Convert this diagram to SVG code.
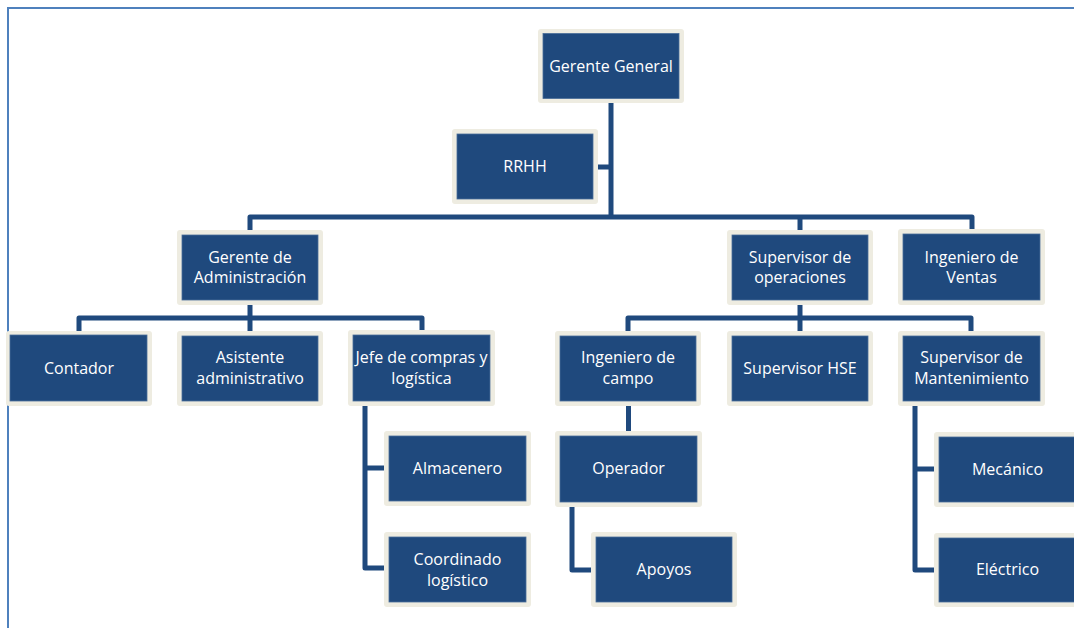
<svg xmlns="http://www.w3.org/2000/svg" width="1074" height="628" viewBox="0 0 1074 628">
  <style>
    .frame { stroke: #4F81BD; stroke-width: 2; fill: none; }
    .outer { fill: #EEECE1; }
    .inner { fill: #1F497D; stroke: #4A6E9A; stroke-width: 0.8; }
    .label { fill: #FFFFFF; font-family: "Open Sans", "Noto Sans", sans-serif; font-size: 16px; text-anchor: middle; }
    .link { fill: none; stroke: #1F497D; stroke-width: 5; stroke-linejoin: round; stroke-linecap: butt; }
  </style>
  <rect width="1074" height="628" fill="#FFFFFF"/>
  <!-- page frame -->
  <path class="frame" d="M8,628 V8 H1074"/>

  <!-- connectors -->
  <g id="connectors">
    <path class="link" d="M611,103 V217"/>
    <path class="link" d="M598,167 H611"/>
    <path class="link" d="M250,230 V217 H972 V229"/>
    <path class="link" d="M800,217 V230"/>
    <path class="link" d="M250,305 V331"/>
    <path class="link" d="M79,331 V318 H422 V330"/>
    <path class="link" d="M800,305 V331"/>
    <path class="link" d="M628,331 V318 H971 V331"/>
    <path class="link" d="M365,406 V568 H384"/>
    <path class="link" d="M365,468 H384"/>
    <path class="link" d="M628.5,406 V431"/>
    <path class="link" d="M572,507 V570 H591"/>
    <path class="link" d="M915,406 V570 H934"/>
    <path class="link" d="M915,469 H934"/>
  </g>

  <g id="gerente-general">
    <rect class="outer" x="538" y="29" width="146" height="74" rx="3"/>
    <rect class="inner" x="543" y="33.5" width="136" height="65"/>
    <text class="label" x="611" y="72">Gerente General</text>
  </g>
  <g id="rrhh">
    <rect class="outer" x="452" y="129" width="146" height="75" rx="3"/>
    <rect class="inner" x="457" y="134" width="136" height="65"/>
    <text class="label" x="525" y="172">RRHH</text>
  </g>
  <g id="gerente-administracion">
    <rect class="outer" x="177" y="230" width="146" height="75" rx="3"/>
    <rect class="inner" x="182" y="235" width="136" height="65"/>
    <text class="label" x="250" y="263">Gerente de</text>
    <text class="label" x="250" y="283">Administración</text>
  </g>
  <g id="supervisor-operaciones">
    <rect class="outer" x="727" y="230" width="146" height="75" rx="3"/>
    <rect class="inner" x="732" y="235" width="136" height="65"/>
    <text class="label" x="800" y="263">Supervisor de</text>
    <text class="label" x="800" y="283">operaciones</text>
  </g>
  <g id="ingeniero-ventas">
    <rect class="outer" x="898" y="229" width="147" height="76" rx="3"/>
    <rect class="inner" x="903" y="234" width="137" height="66"/>
    <text class="label" x="971.5" y="263">Ingeniero de</text>
    <text class="label" x="971.5" y="283">Ventas</text>
  </g>
  <g id="contador">
    <rect class="outer" x="6" y="331" width="146" height="75" rx="3"/>
    <rect class="inner" x="10" y="335" width="137" height="66"/>
    <text class="label" x="79" y="374">Contador</text>
  </g>
  <g id="asistente-administrativo">
    <rect class="outer" x="177" y="331" width="146" height="75" rx="3"/>
    <rect class="inner" x="182" y="336" width="136" height="65"/>
    <text class="label" x="250" y="363">Asistente</text>
    <text class="label" x="250" y="384">administrativo</text>
  </g>
  <g id="jefe-compras">
    <rect class="outer" x="348" y="330" width="147" height="76" rx="3"/>
    <rect class="inner" x="353" y="335" width="137" height="66"/>
    <text class="label" x="421.5" y="363">Jefe de compras y</text>
    <text class="label" x="421.5" y="384">logística</text>
  </g>
  <g id="ingeniero-campo">
    <rect class="outer" x="555" y="331" width="146" height="75" rx="3"/>
    <rect class="inner" x="560" y="336" width="136" height="65"/>
    <text class="label" x="628" y="363">Ingeniero de</text>
    <text class="label" x="628" y="384">campo</text>
  </g>
  <g id="supervisor-hse">
    <rect class="outer" x="727" y="331" width="146" height="75" rx="3"/>
    <rect class="inner" x="732" y="336" width="136" height="65"/>
    <text class="label" x="800" y="374">Supervisor HSE</text>
  </g>
  <g id="supervisor-mantenimiento">
    <rect class="outer" x="898" y="331" width="147" height="75" rx="3"/>
    <rect class="inner" x="903" y="336" width="137" height="65"/>
    <text class="label" x="971.5" y="363">Supervisor de</text>
    <text class="label" x="971.5" y="384">Mantenimiento</text>
  </g>
  <g id="almacenero">
    <rect class="outer" x="384" y="431" width="147" height="75" rx="3"/>
    <rect class="inner" x="389" y="436" width="137" height="65"/>
    <text class="label" x="457.5" y="474">Almacenero</text>
  </g>
  <g id="coordinado-logistico">
    <rect class="outer" x="384" y="532" width="147" height="75" rx="3"/>
    <rect class="inner" x="389" y="537" width="137" height="65"/>
    <text class="label" x="457.5" y="565">Coordinado</text>
    <text class="label" x="457.5" y="586">logístico</text>
  </g>
  <g id="operador">
    <rect class="outer" x="555" y="431" width="147" height="76" rx="3"/>
    <rect class="inner" x="560" y="436" width="137" height="66"/>
    <text class="label" x="628.5" y="474">Operador</text>
  </g>
  <g id="apoyos">
    <rect class="outer" x="591" y="532" width="146" height="75" rx="3"/>
    <rect class="inner" x="596" y="537" width="136" height="65"/>
    <text class="label" x="664" y="575">Apoyos</text>
  </g>
  <g id="mecanico">
    <rect class="outer" x="934" y="432" width="147" height="75" rx="3"/>
    <rect class="inner" x="939" y="437" width="137" height="65"/>
    <text class="label" x="1007.5" y="475">Mecánico</text>
  </g>
  <g id="electrico">
    <rect class="outer" x="934" y="533" width="147" height="74" rx="3"/>
    <rect class="inner" x="939" y="538" width="137" height="64"/>
    <text class="label" x="1007.5" y="575">Eléctrico</text>
  </g>
</svg>
